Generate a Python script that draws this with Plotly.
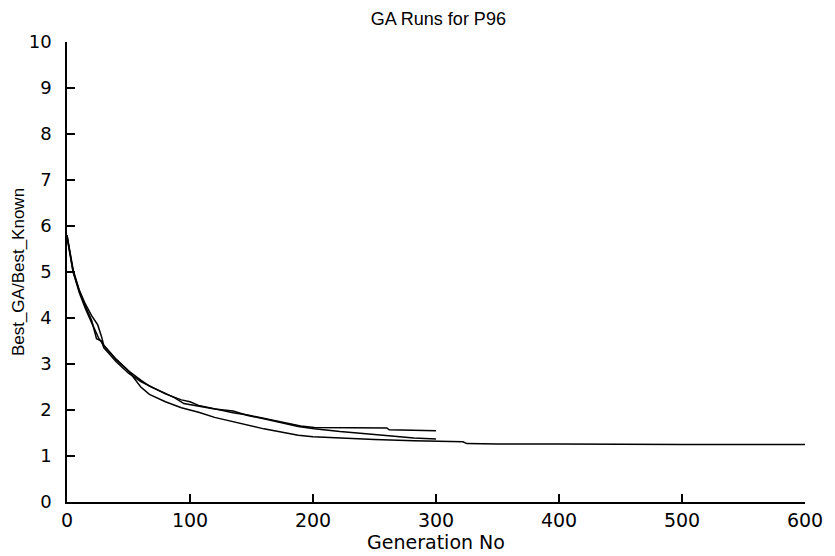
import plotly.graph_objects as go

# Run 1 (ends at generation 300, highest at the end)
run1_gen = [0, 5, 10, 15, 20, 24, 28, 30, 40, 50, 60, 67, 80, 93, 100, 107, 120, 135, 147, 174, 190, 201, 230, 260, 262, 300]
run1_val = [5.8, 5.05, 4.6, 4.25, 3.95, 3.55, 3.5, 3.35, 3.05, 2.8, 2.62, 2.52, 2.35, 2.22, 2.18, 2.1, 2.02, 1.94, 1.89, 1.73, 1.65, 1.62, 1.62, 1.61, 1.57, 1.55]

# Run 2 (ends at generation 300)
run2_gen = [0, 5, 10, 15, 20, 25, 28, 30, 40, 50, 60, 67, 80, 88, 95, 107, 120, 135, 147, 160, 174, 188, 201, 222, 250, 282, 300]
run2_val = [5.75, 5.0, 4.6, 4.3, 4.05, 3.85, 3.6, 3.4, 3.1, 2.85, 2.65, 2.52, 2.36, 2.26, 2.14, 2.08, 2.02, 1.98, 1.88, 1.81, 1.73, 1.64, 1.59, 1.53, 1.47, 1.39, 1.37]

# Run 3 (runs to generation 600, lowest)
run3_gen = [0, 5, 10, 15, 20, 26, 30, 40, 50, 56, 60, 67, 80, 93, 107, 120, 135, 147, 160, 174, 188, 200, 220, 250, 282, 300, 322, 325, 350, 400, 450, 500, 550, 600]
run3_val = [5.8, 5.0, 4.55, 4.2, 3.9, 3.55, 3.4, 3.1, 2.85, 2.63, 2.5, 2.34, 2.18, 2.05, 1.95, 1.84, 1.74, 1.66, 1.59, 1.52, 1.45, 1.42, 1.39, 1.36, 1.33, 1.32, 1.31, 1.27, 1.26, 1.26, 1.25, 1.25, 1.25, 1.25]

x_ticks = [0, 100, 200, 300, 400, 500, 600]
y_ticks = [0, 1, 2, 3, 4, 5, 6, 7, 8, 9, 10]

fig = go.Figure()
for g, v in [(run1_gen, run1_val), (run2_gen, run2_val), (run3_gen, run3_val)]:
    fig.add_trace(go.Scatter(x=g, y=v, mode="lines",
                             line=dict(color="black", width=1.5),
                             showlegend=False, hoverinfo="skip"))

title_font = "Liberation Sans, Arial, Helvetica, sans-serif"
tick_font = "DejaVu Sans, Verdana, sans-serif"
fig.update_layout(
    width=835, height=556,
    margin=dict(l=67, r=24, t=42, b=49),
    paper_bgcolor="white", plot_bgcolor="white",
    title=dict(text="GA Runs for P96", x=0.525, xanchor="center", y=0.978, yanchor="top",
               font=dict(family=title_font, size=18, color="black")),
    font=dict(family=tick_font, color="black"),
)
fig.update_xaxes(range=[0, 600], tickvals=x_ticks, ticktext=[str(t) for t in x_ticks],
                 ticks="inside", ticklen=8, tickwidth=1.5, tickcolor="black",
                 showline=True, linecolor="black", linewidth=1.5, mirror=False,
                 showgrid=False, zeroline=False, layer="above traces",
                 tickfont=dict(size=19, family=tick_font),
                 title=dict(text="Generation No", font=dict(size=19, family=tick_font), standoff=0))
fig.update_yaxes(range=[0, 10], tickvals=y_ticks, ticktext=[str(t) for t in y_ticks],
                 ticks="inside", ticklen=8, tickwidth=1.5, tickcolor="black",
                 showline=True, linecolor="black", linewidth=1.5, mirror=False,
                 showgrid=False, zeroline=False, layer="above traces",
                 tickfont=dict(size=18, family=tick_font), ticklabelstandoff=10,
                 title=dict(text="Best_GA/Best_Known", font=dict(size=17, family=title_font), standoff=0))

fig.write_html("out.html")
